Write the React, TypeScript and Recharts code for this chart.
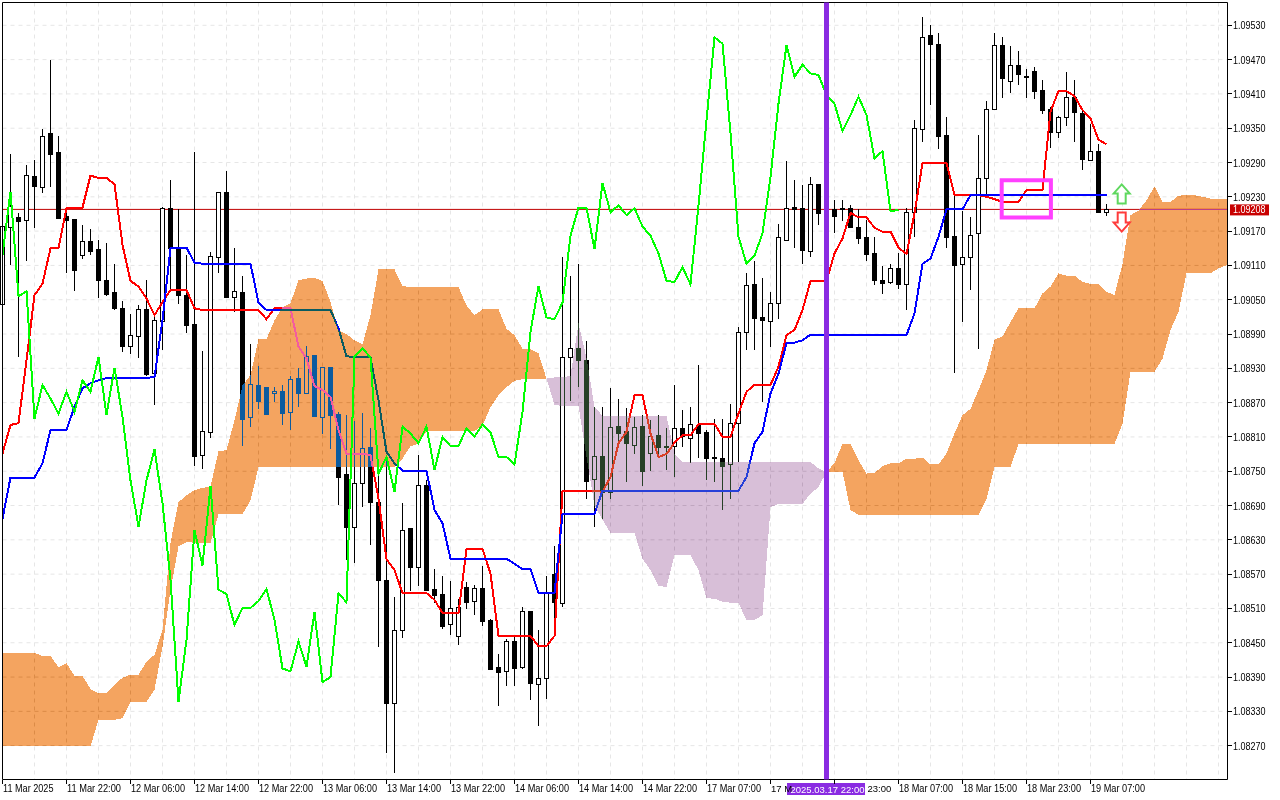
import { ComposedChart, Bar, Line, Area, XAxis, YAxis, CartesianGrid, ReferenceLine, ReferenceArea, ReferenceDot } from 'recharts';

// every price below is in points above 1.08000
const BASE = 1.08;

const candleOpen = [
  1042, 1178, 1194, 1190, 1267, 1248, 1341, 1308, 1196, 1192,
  1129, 1152, 1138, 1085, 1063, 1035, 969, 987, 1033, 921,
  1013, 1211, 1140, 1059, 1007, 779, 819, 1125, 1239, 1054,
  1064, 844, 901, 897, 886, 890, 853, 913, 887, 953,
  845, 932, 850, 746, 653, 730, 793, 697, 560, 345,
  472, 650, 583, 726, 544, 535, 482, 462, 547, 523,
  545, 490, 407, 401, 453, 407, 505, 378, 389, 571,
  519, 949, 965, 944, 737, 776, 713, 829, 820, 796,
  829, 782, 813, 794, 794, 825, 809, 831, 818, 775,
  774, 762, 835, 994, 1077, 1019, 1013, 1045, 1154, 1212,
  1210, 1136, 1252, 1202, 1208, 1210, 1210, 1178, 1159, 1131,
  1084, 1081, 1106, 1077, 1203, 1348, 1513, 1498, 1338, 1161,
  1113, 1124, 1166, 1263, 1383, 1496, 1433, 1460, 1442, 1450,
  1417, 1383, 1344, 1369, 1405, 1376, 1295, 1311, 1204,
];
const candleClose = [
  1179, 1214, 1188, 1269, 1249, 1337, 1305, 1193, 1189, 1102,
  1152, 1136, 1085, 1060, 1036, 969, 988, 1033, 920, 1014,
  1210, 1141, 1059, 1006, 777, 820, 1127, 1239, 1055, 1066,
  842, 902, 873, 850, 890, 852, 911, 887, 951, 847,
  932, 848, 740, 653, 730, 790, 697, 560, 345, 472,
  648, 583, 726, 542, 533, 480, 510, 512, 522, 545,
  488, 404, 399, 453, 406, 505, 380, 389, 537, 521,
  949, 965, 944, 733, 776, 714, 828, 817, 799, 828,
  751, 811, 793, 793, 825, 812, 832, 817, 774, 774,
  760, 835, 994, 1076, 1018, 1015, 1045, 1160, 1211, 1208,
  1137, 1253, 1202, 1210, 1197, 1208, 1178, 1158, 1130, 1084,
  1080, 1106, 1077, 1204, 1350, 1509, 1498, 1337, 1160, 1111,
  1124, 1164, 1263, 1384, 1496, 1438, 1461, 1445, 1439, 1415,
  1382, 1344, 1369, 1405, 1379, 1296, 1311, 1204, 1208,
];
const candleHigh = [
  1179, 1305, 1201, 1285, 1294, 1348, 1469, 1336, 1210, 1192,
  1180, 1173, 1154, 1150, 1113, 1047, 1025, 1041, 1085, 1023,
  1213, 1259, 1208, 1128, 1308, 960, 1133, 1239, 1275, 1140,
  1092, 972, 934, 898, 897, 901, 916, 930, 969, 953,
  932, 932, 854, 848, 838, 851, 825, 758, 778, 530,
  695, 650, 779, 734, 579, 567, 558, 526, 556, 551,
  584, 491, 431, 456, 462, 512, 505, 472, 567, 619,
  1124, 1091, 1112, 978, 863, 863, 896, 877, 860, 845,
  848, 839, 849, 825, 901, 857, 863, 936, 822, 841,
  841, 867, 1002, 1096, 1118, 1088, 1063, 1182, 1292, 1259,
  1250, 1264, 1252, 1225, 1224, 1224, 1215, 1208, 1189, 1159,
  1109, 1112, 1131, 1211, 1364, 1544, 1530, 1517, 1369, 1233,
  1205, 1194, 1338, 1397, 1516, 1509, 1494, 1485, 1454, 1457,
  1434, 1387, 1372, 1449, 1434, 1382, 1358, 1322, 1217,
];
const candleLow = [
  1042, 1111, 949, 1118, 1175, 1237, 1248, 1192, 1097, 1066,
  1121, 1128, 1053, 1057, 1032, 959, 955, 948, 916, 866,
  962, 1067, 1042, 992, 760, 754, 809, 1097, 1053, 1029,
  795, 828, 859, 848, 871, 831, 822, 863, 885, 847,
  815, 789, 691, 595, 590, 688, 621, 443, 258, 223,
  459, 541, 550, 542, 520, 474, 463, 446, 509, 498,
  479, 402, 340, 375, 374, 404, 349, 305, 351, 493,
  512, 873, 897, 701, 653, 666, 701, 796, 732, 781,
  725, 751, 775, 752, 740, 793, 765, 774, 734, 732,
  682, 701, 767, 962, 962, 871, 968, 1016, 1153, 1140,
  1113, 1124, 1181, 1180, 1167, 1187, 1178, 1148, 1118, 1076,
  1060, 1077, 1069, 1032, 1160, 1326, 1390, 1314, 1141, 922,
  1011, 1067, 964, 1233, 1383, 1403, 1412, 1425, 1403, 1401,
  1375, 1316, 1333, 1354, 1326, 1277, 1295, 1203, 1196,
];
const tenkan = [
  781, 831, 834, 944, 1058, 1078, 1140, 1141, 1210, 1211,
  1211, 1267, 1263, 1263, 1252, 1146, 1083, 1073, 1052, 1023,
  1046, 1067, 1067, 1067, 1035, 1032, 1032, 1032, 1032, 1032,
  1032, 1032, 1032, 1016, 1035, 1036, 1035, 968, 947, 899,
  892, 880, 822, 781, 781, 781, 778, 702, 596, 577,
  537, 537, 537, 537, 525, 502, 502, 502, 614, 614,
  614, 571, 462, 462, 462, 462, 462, 444, 444, 462,
  716, 716, 716, 716, 716, 714, 740, 799, 819, 883,
  883, 816, 775, 780, 800, 813, 813, 832, 832, 833,
  810, 810, 851, 889, 901, 901, 901, 933, 988, 997,
  1032, 1083, 1083, 1083, 1131, 1157, 1202, 1194, 1194, 1176,
  1169, 1169, 1141, 1130, 1201, 1289, 1289, 1289, 1289, 1233,
  1233, 1233, 1233, 1230, 1226, 1221, 1221, 1221, 1242, 1242,
  1242, 1379, 1415, 1415, 1406, 1382, 1367, 1330, 1322,
];
const kijun = [
  667, 739, 739, 739, 739, 764, 822, 822, 822, 863,
  895, 904, 909, 913, 913, 913, 913, 913, 913, 915,
  1014, 1141, 1141, 1141, 1115, 1113, 1113, 1113, 1113, 1113,
  1113, 1113, 1045, 1032, 1032, 1032, 1032, 1032, 1032, 1032,
  1032, 1032, 1000, 951, 950, 950, 949, 874, 784, 764,
  751, 751, 751, 751, 682, 659, 597, 597, 597, 597,
  597, 597, 597, 597, 588, 579, 579, 537, 537, 537,
  675, 675, 675, 675, 675, 716, 716, 716, 716, 716,
  716, 716, 716, 716, 716, 716, 716, 716, 716, 716,
  716, 716, 716, 740, 799, 819, 886, 921, 974, 975,
  979, 989, 989, 988, 988, 988, 988, 988, 988, 988,
  988, 988, 988, 988, 1026, 1113, 1122, 1160, 1208, 1208,
  1208, 1233, 1233, 1233, 1233, 1233, 1233, 1233, 1233, 1233,
  1233, 1233, 1233, 1233, 1233, 1233, 1233, 1233, 1233,
];
const chikou = [
  1128, 1239, 1056, 1065, 842, 901, 877, 851, 889, 854,
  909, 889, 950, 848, 931, 845, 734, 653, 734, 788,
  694, 560, 347, 455, 647, 585, 724, 543, 535, 481,
  511, 511, 523, 544, 490, 405, 400, 452, 408, 504,
  381, 390, 536, 521, 950, 965, 949, 746, 775, 714,
  828, 816, 799, 828, 752, 810, 794, 794, 825, 811,
  832, 818, 775, 775, 762, 854, 994, 1074, 1019, 1016,
  1045, 1162, 1211, 1211, 1139, 1254, 1203, 1215, 1198, 1210,
  1178, 1162, 1131, 1083, 1081, 1107, 1077, 1215, 1364, 1509,
  1498, 1341, 1160, 1113, 1127, 1166, 1265, 1393, 1495, 1440,
  1461, 1446, 1443, 1408, 1393, 1345, 1373, 1405, 1373, 1297,
  1310, 1205, 1207,
];
// bullish cloud, bars 0-68
const orangeUpperA = [
  432, 432, 432, 432, 432, 427, 427, 407, 414, 392,
  392, 369, 362, 362, 376, 389, 394, 394, 417, 429,
  472, 625, 696, 708, 717, 721, 723, 785, 787, 839,
  900, 918, 981, 981, 1014, 1037, 1044, 1084, 1087, 1088,
  1083, 1046, 997, 990, 979, 972, 1023, 1103, 1103, 1103,
  1074, 1072, 1072, 1072, 1072, 1072, 1072, 1072, 1040, 1023,
  1033, 1033, 1033, 999, 988, 964, 963, 956, 912,
];
const orangeLowerA = [
  269, 269, 269, 269, 269, 269, 269, 269, 269, 269,
  269, 269, 315, 315, 315, 318, 347, 347, 347, 368,
  443, 542, 619, 626, 625, 625, 625, 675, 675, 675,
  675, 699, 757, 757, 757, 757, 757, 757, 757, 757,
  757, 757, 757, 757, 757, 757, 757, 757, 757, 757,
  772, 794, 798, 820, 820, 820, 820, 820, 820, 820,
  830, 862, 883, 897, 908, 911, 911, 911, 912,
];
// bearish cloud, bars 68-103
const purpleUpper = [
  912, 914, 914, 917, 1009, 948, 863, 847, 847, 847,
  847, 847, 847, 847, 847, 847, 781, 766, 766, 766,
  766, 766, 766, 766, 766, 766, 766, 766, 766, 766,
  766, 766, 766, 766, 755, 749,
];
const purpleLower = [
  912, 866, 864, 864, 864, 775, 690, 665, 642, 642,
  642, 642, 597, 577, 549, 548, 603, 603, 603, 577,
  528, 527, 522, 520, 520, 489, 490, 498, 687, 693,
  693, 693, 693, 711, 722, 749,
];
// bullish cloud again, bars 103-153
const orangeUpperB = [
  749, 764, 798, 798, 769, 746, 747, 759, 764, 764,
  772, 772, 774, 762, 762, 781, 816, 848, 859, 892,
  927, 980, 986, 1011, 1035, 1035, 1035, 1061, 1073, 1096,
  1092, 1092, 1081, 1078, 1078, 1064, 1058, 1113, 1198, 1206,
  1224, 1248, 1221, 1221, 1232, 1233, 1233, 1230, 1227, 1227,
  1227,
];
const orangeLowerB = [
  749, 749, 749, 682, 674, 674, 674, 674, 674, 674,
  674, 674, 674, 674, 674, 674, 674, 674, 674, 674,
  702, 757, 757, 757, 798, 798, 798, 798, 798, 798,
  798, 798, 798, 798, 798, 798, 798, 833, 924, 924,
  924, 924, 947, 997, 1029, 1096, 1096, 1096, 1096, 1105,
  1110,
];

const priceTicks = [
  1.0827, 1.0833, 1.0839, 1.0845, 1.0851, 1.0857, 1.0863, 1.0869, 1.0875, 1.0881, 1.0887,
  1.0893, 1.0899, 1.0905, 1.0911, 1.0917, 1.0923, 1.0929, 1.0935, 1.0941, 1.0947, 1.0953,
];
const gridBars = [
  0, 4, 8, 12, 16, 20, 24, 28, 32, 36, 40, 44, 48, 52, 56, 60, 64, 68, 72, 76,
  80, 84, 88, 92, 96, 100, 104, 108, 112, 116, 120, 124, 128, 132, 136, 140, 144, 148, 152,
];
// 96 and 104 are mostly covered by the marker's date box, only these parts show
const timeLabels: Record<number, string> = {
  0: '11 Mar 2025', 8: '11 Mar 22:00', 16: '12 Mar 06:00', 24: '12 Mar 14:00', 32: '12 Mar 22:00',
  40: '13 Mar 06:00', 48: '13 Mar 14:00', 56: '13 Mar 22:00', 64: '14 Mar 06:00', 72: '14 Mar 14:00',
  80: '14 Mar 22:00', 88: '17 Mar 07:00', 96: '17 M', 104: '23:00', 112: '18 Mar 07:00',
  120: '18 Mar 15:00', 128: '18 Mar 23:00', 136: '19 Mar 07:00',
};

const LAST_PRICE = 1.09208;
const MARKED_BAR = 103;

const px = (v?: number) => (v == null ? null : BASE + v / 100000);

const rows = Array.from({ length: 154 }, (_, i) => {
  const upper = i <= 68 ? orangeUpperA[i] : orangeUpperB[i - 103];
  const lower = i <= 68 ? orangeLowerA[i] : orangeLowerB[i - 103];
  return {
    i,
    open: px(candleOpen[i]),
    close: px(candleClose[i]),
    high: px(candleHigh[i]),
    low: px(candleLow[i]),
    range: candleHigh[i] == null ? null : [px(candleLow[i]), px(candleHigh[i])],
    tenkan: px(tenkan[i]),
    kijun: px(kijun[i]),
    chikou: px(chikou[i]),
    orange: upper == null ? null : [px(lower), px(upper)],
    purple: i >= 68 && i <= 103 ? [px(purpleLower[i - 68]), px(purpleUpper[i - 68])] : null,
  };
});

const FONT = '"Liberation Sans", sans-serif';

function Candle(props: any) {
  const { x, y, width, height, payload } = props;
  if (payload.open == null || !height) return null;
  const cx = Math.floor(x + width / 2) + 0.5;
  const k = height / (payload.high - payload.low);
  const top = Math.round(y + (payload.high - Math.max(payload.open, payload.close)) * k) + 0.5;
  const bottom = Math.round(y + (payload.high - Math.min(payload.open, payload.close)) * k) + 0.5;
  const bull = payload.close >= payload.open;
  return (
    <g shapeRendering="crispEdges">
      <line x1={cx} x2={cx} y1={Math.round(y)} y2={Math.round(y + height)} stroke="#000" />
      <rect x={cx - 2} y={top} width={4} height={Math.max(bottom - top, 1)} fill={bull ? '#fff' : '#000'} stroke="#000" />
    </g>
  );
}

function TimeTick({ x, payload }: any) {
  const label = timeLabels[payload.value];
  if (!label) return null;
  const textX = label === '23:00' ? x + 33 : x + 0.5;
  const short = label.length < 6;
  return (
    <g>
      <line x1={x} x2={x} y1={779.5} y2={784} stroke="#000" shapeRendering="crispEdges" />
      {short ? (
        <text x={textX} y={792} fontFamily={FONT} fontSize={9.5} fill="#000">{label}</text>
      ) : (
        <text x={textX} y={792} fontFamily={FONT} fontSize={11} fill="#000" textLength={label.length === 11 ? 50.5 : 54} lengthAdjust="spacingAndGlyphs">{label}</text>
      )}
    </g>
  );
}

function PriceTick({ y, payload }: any) {
  return (
    <g>
      <line x1={1227.5} x2={1232} y1={y} y2={y} stroke="#000" shapeRendering="crispEdges" />
      <text x={1233} y={y + 4} fontFamily={FONT} fontSize={11} fill="#000" textLength={32.5} lengthAdjust="spacingAndGlyphs">{payload.value.toFixed(5)}</text>
    </g>
  );
}

function LastPriceLabel({ viewBox }: any) {
  const y = viewBox.y;
  return (
    <g>
      <rect x={1230} y={y - 5} width={39} height={11} fill="#C80000" />
      <text x={1233} y={y + 4} fontFamily={FONT} fontSize={11} fill="#fff" textLength={32.5} lengthAdjust="spacingAndGlyphs">{LAST_PRICE.toFixed(5)}</text>
    </g>
  );
}

function MarkerLabel({ viewBox }: any) {
  const x = viewBox.x;
  return (
    <g>
      <rect x={x - 39.5} y={783} width={78} height={12} fill="#8A2BE2" />
      <text x={x - 36} y={792.5} fontFamily={FONT} fontSize={9.5} fill="#fff">2025.03.17 22:00</text>
    </g>
  );
}

function UpArrow({ cx, cy }: any) {
  const pts = [[0, -9], [8, 0], [4, 0], [4, 10], [-4, 10], [-4, 0], [-8, 0]].map(p => `${cx + p[0]},${cy + p[1]}`).join(' ');
  return <polygon points={pts} fill="#fff" stroke="#5FD85F" strokeWidth={2} />;
}

function DownArrow({ cx, cy }: any) {
  const pts = [[0, 9], [8, 0], [4, 0], [4, -10], [-4, -10], [-4, 0], [-8, 0]].map(p => `${cx + p[0]},${cy + p[1]}`).join(' ');
  return <polygon points={pts} fill="#fff" stroke="#FF3B3B" strokeWidth={2} />;
}

export default function App() {
  return (
    <div style={{ position: 'absolute', left: 0, top: 0, width: 1280, height: 800 }}>
      {/* the terminal paints its cloud with XOR, so candles and lines change colour under it */}
      <style>{'.recharts-area-area{mix-blend-mode:difference;shape-rendering:crispEdges}.recharts-line-curve{shape-rendering:crispEdges}'}</style>
      <ComposedChart width={1280} height={800} data={rows} margin={{ left: 2.5, top: 2.5, right: 0, bottom: 0 }}>
        <CartesianGrid stroke="#E6E6E6" strokeDasharray="4 4" fill="#fff" fillOpacity={1} />
        <XAxis
          dataKey="i"
          type="number"
          domain={[0, 153.125]}
          ticks={gridBars}
          interval={0}
          height={20.5}
          tickLine={false}
          tickSize={0}
          axisLine={{ stroke: '#000' }}
          tick={<TimeTick />}
        />
        <YAxis
          orientation="right"
          width={52.5}
          domain={[1.082108, 1.095699]}
          ticks={priceTicks}
          interval={0}
          tickLine={false}
          tickSize={0}
          axisLine={{ stroke: '#000' }}
          tick={<PriceTick />}
        />
        <ReferenceLine y={1.095699} stroke="#000" zIndex={450} />
        <ReferenceLine x={0} stroke="#000" zIndex={450} />
        <ReferenceLine y={LAST_PRICE} stroke="#C00000" zIndex={50} label={<LastPriceLabel />} />
        <Bar dataKey="range" barSize={5} shape={<Candle />} isAnimationActive={false} zIndex={60} />
        <Line dataKey="tenkan" stroke="#FF0000" strokeWidth={2} dot={false} activeDot={false} isAnimationActive={false} zIndex={70} />
        <Line dataKey="kijun" stroke="#0000FF" strokeWidth={2} dot={false} activeDot={false} isAnimationActive={false} zIndex={80} />
        <Area dataKey="orange" fill="#0B5B9F" fillOpacity={1} stroke="none" dot={false} activeDot={false} isAnimationActive={false} zIndex={90} />
        <Area dataKey="purple" fill="#274027" fillOpacity={1} stroke="none" dot={false} activeDot={false} isAnimationActive={false} zIndex={91} />
        <Line dataKey="chikou" stroke="#00FF00" strokeWidth={2} dot={false} activeDot={false} isAnimationActive={false} zIndex={110} />
        <ReferenceDot x={139.9} y={1.09236} shape={<UpArrow />} zIndex={120} />
        <ReferenceDot x={139.9} y={1.09185} shape={<DownArrow />} zIndex={120} />
        <ReferenceArea x1={124.9} x2={131.05} y1={1.09259} y2={1.09194} stroke="#FF40FF" strokeWidth={4} fill="none" fillOpacity={0} zIndex={130} />
        <ReferenceLine x={MARKED_BAR} stroke="#8A2BE2" strokeWidth={5} zIndex={600} label={<MarkerLabel />} />
      </ComposedChart>
    </div>
  );
}
